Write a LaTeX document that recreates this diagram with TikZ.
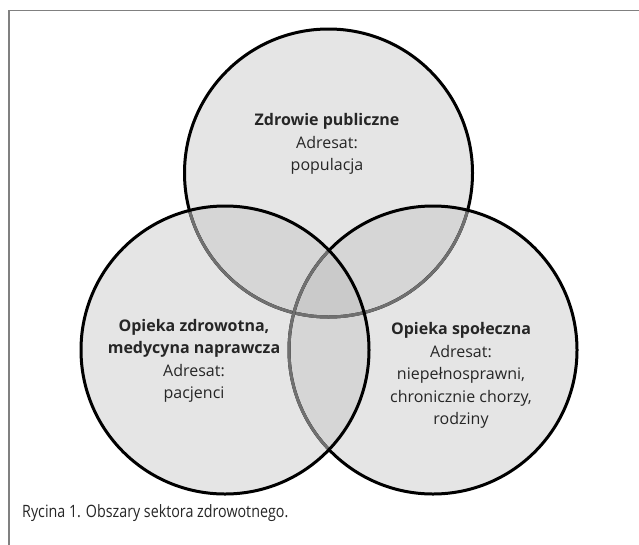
\documentclass[tikz,border=0pt]{standalone}
\usepackage{fontspec}
\setmainfont{Open Sans}
\newfontfamily\capfont[FakeStretch=0.84]{Open Sans}
\definecolor{one}{HTML}{E5E5E5}
\definecolor{two}{HTML}{D6D6D6}
\definecolor{three}{HTML}{CACACA}
\definecolor{inner}{HTML}{707070}
\definecolor{frame}{HTML}{808080}
\tikzset{
  lbl/.style={align=center, inner sep=0pt, font=\fontsize{16}{22.5}\selectfont, text=black!85},
  ring/.style={line width=3pt},
}
\begin{document}
\begin{tikzpicture}[x=1pt,y=-1pt]
\useasboundingbox (0,0) rectangle (639,544);
\fill[white] (0,0) rectangle (639,544);
\draw[frame, line width=1.5pt] (9,546) -- (9,10.5) -- (641,10.5);
\coordinate (T) at (328.5,173);
\coordinate (L) at (225,350);
\coordinate (R) at (433,350);
\def\rad{144}
% fills
\fill[one] (T) circle (\rad);
\fill[one] (L) circle (\rad);
\fill[one] (R) circle (\rad);
\begin{scope}
  \clip (T) circle (\rad);
  \fill[two] (L) circle (\rad);
  \fill[two] (R) circle (\rad);
\end{scope}
\begin{scope}
  \clip (L) circle (\rad);
  \fill[two] (R) circle (\rad);
  \clip (T) circle (\rad);
  \fill[three] (R) circle (\rad);
\end{scope}
% strokes
\draw[ring] (T) circle (\rad);
\begin{scope}
  \clip (L) circle (\rad);
  \draw[ring, inner] (T) circle (\rad);
\end{scope}
\begin{scope}
  \clip (R) circle (\rad);
  \draw[ring, inner] (T) circle (\rad);
\end{scope}
\draw[ring] (R) circle (\rad);
\begin{scope}
  \clip (L) circle (\rad);
  \draw[ring, inner] (R) circle (\rad);
\end{scope}
\draw[ring] (L) circle (\rad);
% labels
\node[lbl] (tl) at (327,144) {\textbf{Zdrowie publiczne}\\Adresat:\\populacja};
\node[lbl] (ll) at (194,361) {\textbf{Opieka zdrowotna,}\\\textbf{medycyna naprawcza}\\Adresat:\\pacjenci};
\node[lbl] (rl) at (461,375.5) {\textbf{Opieka społeczna}\\Adresat:\\niepełnosprawni,\\chronicznie chorzy,\\rodziny};
\node[anchor=west, inner sep=0pt, font=\capfont\fontsize{17}{19}\selectfont, text=black!85] (cap) at (22,513) {Rycina 1. Obszary sektora zdrowotnego.};
\end{tikzpicture}
\end{document}
